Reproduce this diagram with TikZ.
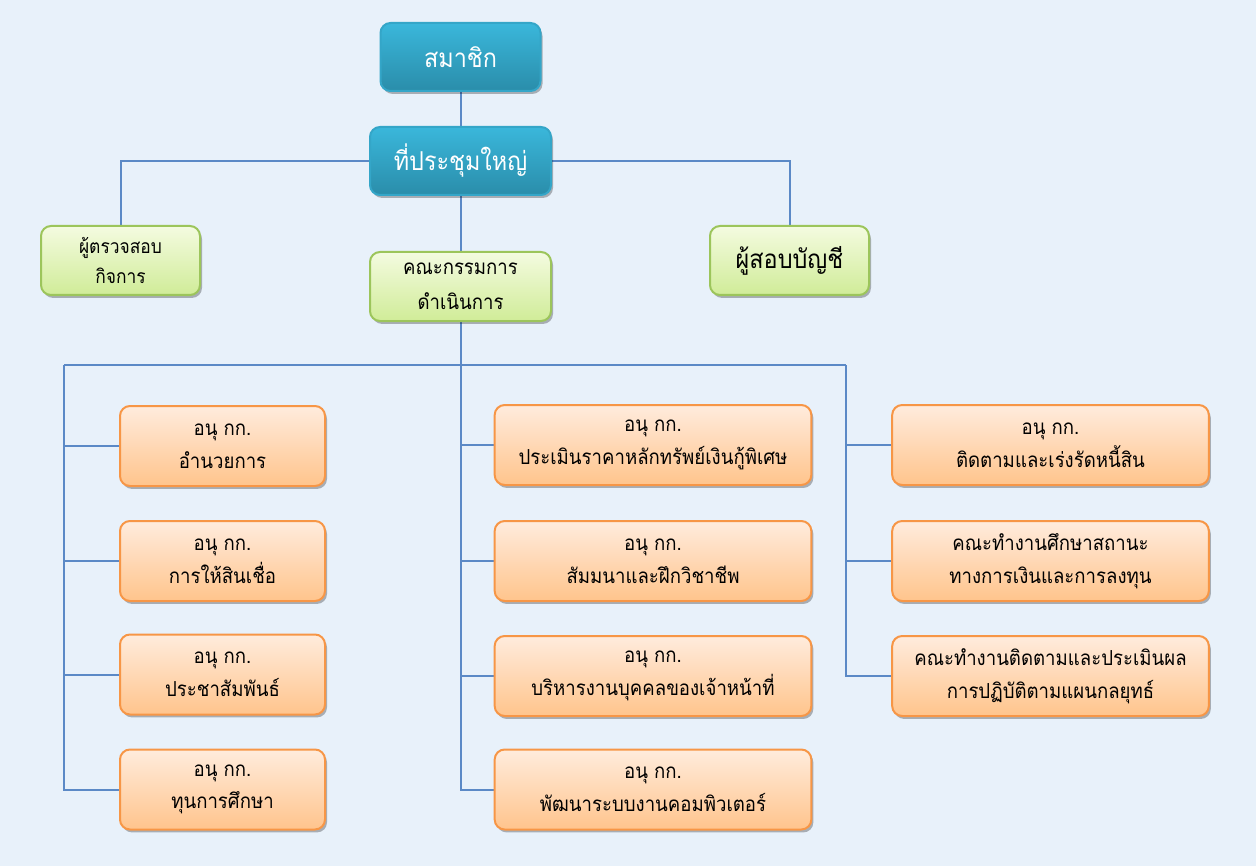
\documentclass[tikz,border=0pt]{standalone}
\usepackage{fontspec}
\setmainfont[Script=Thai,FakeStretch=0.9]{Loma}
\usetikzlibrary{shadows}
\definecolor{bgc}{HTML}{E8F1FA}
\definecolor{linec}{HTML}{5B89C6}
\definecolor{tealtop}{HTML}{3AB7DB}
\definecolor{tealbot}{HTML}{2A8DAA}
\definecolor{tealedge}{HTML}{34A6C8}
\definecolor{greentop}{HTML}{F4FBE0}
\definecolor{greenbot}{HTML}{D0EC98}
\definecolor{greenedge}{HTML}{9CC55B}
\definecolor{orangetop}{HTML}{FFECDD}
\definecolor{orangebot}{HTML}{FFC48C}
\definecolor{orangeedge}{HTML}{F79646}
\pgfdeclarelayer{back}
\pgfdeclarelayer{wires}
\pgfsetlayers{back,wires,main}
\begin{document}
\begin{tikzpicture}[x=0.75pt,y=-0.75pt,
  box/.style={draw,line width=1.5pt,rounded corners=7.5pt,shading=axis,align=center,inner sep=0pt,
    drop shadow={shadow xshift=1.5pt,shadow yshift=-2.2pt,fill=black,opacity=0.28}},
  tealbox/.style={box,draw=tealedge,top color=tealtop,bottom color=tealbot,text=white,
    font=\fontsize{19.5}{26}\selectfont},
  greenbox/.style={box,draw=greenedge,top color=greentop,bottom color=greenbot,text=black},
  orangebox/.style={box,draw=orangeedge,top color=orangetop,bottom color=orangebot,text=black,
    font=\fontsize{15.5}{24.5}\selectfont,minimum height=60pt},
  leftbox/.style={orangebox,minimum width=153.75pt},
  widebox/.style={orangebox,minimum width=237.5pt},
  wire/.style={draw=linec,line width=1.5pt}
]
\begin{pgfonlayer}{back}
\fill[bgc] (0,0) rectangle (1256,866);
\end{pgfonlayer}
\useasboundingbox (0,0) rectangle (1256,866);

% top
\node[tealbox,minimum width=120pt,minimum height=51pt] (mem) at (460.5,57) {สมาชิก};
\node[tealbox,minimum width=135.75pt,minimum height=51pt] (meet) at (460.5,161) {ที่ประชุมใหญ่};
\node[greenbox,minimum width=119.25pt,minimum height=51.75pt,font=\fontsize{14.5}{23}\selectfont] (audit) at (120.5,260.5) {ผู้ตรวจสอบ\\กิจการ};
\node[greenbox,minimum width=135.75pt,minimum height=51.75pt,font=\fontsize{15.5}{26}\selectfont] (board) at (460.5,286.5) {คณะกรรมการ\\ดำเนินการ};
\node[greenbox,minimum width=119.25pt,minimum height=51.75pt,font=\fontsize{19.5}{26}\selectfont] (acct) at (789.5,260.5) {ผู้สอบบัญชี};

% left column
\node[leftbox] (l1) at (222.5,446) {อนุ กก.\\อำนวยการ};
\node[leftbox] (l2) at (222.5,561) {อนุ กก.\\การให้สินเชื่อ};
\node[leftbox] (l3) at (222.5,674.5) {อนุ กก.\\ประชาสัมพันธ์};
\node[leftbox] (l4) at (222.5,789.5) {อนุ กก.\\ทุนการศึกษา};

% middle column
\node[widebox] (m1) at (653,445) {อนุ กก.\\ประเมินราคาหลักทรัพย์เงินกู้พิเศษ};
\node[widebox] (m2) at (653,561) {อนุ กก.\\สัมมนาและฝึกวิชาชีพ};
\node[widebox] (m3) at (653,676) {อนุ กก.\\บริหารงานบุคคลของเจ้าหน้าที่};
\node[widebox] (m4) at (653,789.5) {อนุ กก.\\พัฒนาระบบงานคอมพิวเตอร์};

% right column
\node[widebox] (r1) at (1050.5,445) {อนุ กก.\\ติดตามและเร่งรัดหนี้สิน};
\node[widebox] (r2) at (1050.5,561) {คณะทำงานศึกษาสถานะ\\ทางการเงินและการลงทุน};
\node[widebox] (r3) at (1050.5,676) {คณะทำงานติดตามและประเมินผล\\การปฏิบัติตามแผนกลยุทธ์};

\coordinate (L) at (64,365);
\coordinate (M) at (460.5,365);
\coordinate (R) at (846,365);

\begin{pgfonlayer}{wires}
\draw[wire] (mem) -- (meet);
\draw[wire] (meet) -- (board);
\draw[wire] (meet.west) -| (audit.north);
\draw[wire] (meet.east) -| (acct.north);
\draw[wire] (board.south) -- (M);
\draw[wire] (L) -- (R);
\foreach \n in {l1,l2,l3,l4} \draw[wire] (L) |- (\n.west);
\foreach \n in {m1,m2,m3,m4} \draw[wire] (M) |- (\n.west);
\foreach \n in {r1,r2,r3} \draw[wire] (R) |- (\n.west);
\end{pgfonlayer}
\end{tikzpicture}
\end{document}
